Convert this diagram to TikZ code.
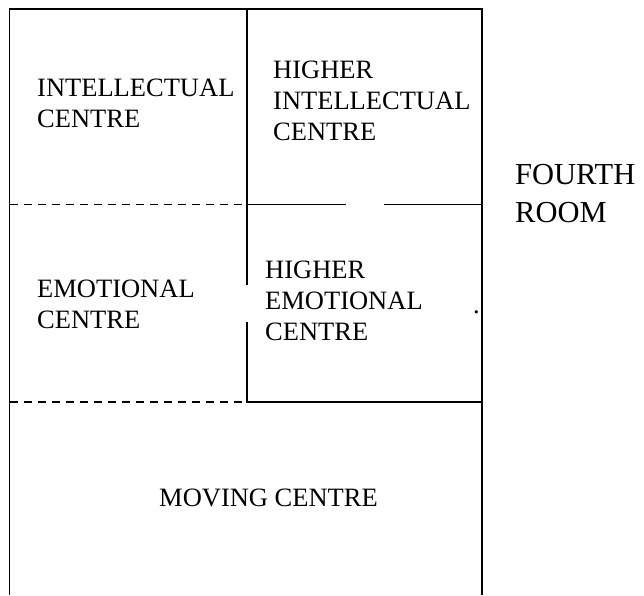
\documentclass[tikz,border=0pt]{standalone}
\usepackage{fontspec}
\setmainfont{Liberation Serif}

\tikzset{
  wall/.style={line width=1.6pt},
  open wall/.style={line width=1.6pt, dash pattern=on 8.5pt off 5.5pt},
  roomtext/.style={align=left, anchor=base west, inner sep=0pt,
    font=\fontsize{26.5}{31}\selectfont},
}

\begin{document}
\begin{tikzpicture}[x=1pt,y=1pt]
  \useasboundingbox (0,0) rectangle (644,595);
  % walls
  \draw[wall] (9.5,0) -- (9.5,586) -- (482,586) -- (482,0);
  \draw[wall] (247,586) -- (247,390.5) -- (346,390.5);
  \draw[wall] (384,390.5) -- (482,390.5);
  \draw[wall] (247,390.5) -- (247,310);
  \draw[wall] (247,273) -- (247,193) -- (482,193);
  \draw[open wall] (9.5,390.5) -- (247,390.5);
  \draw[open wall] (9.5,193) -- (247,193);
  % rooms (base = last line)
  \node[roomtext] (intel) at (37,467) {INTELLECTUAL\\CENTRE};
  \node[roomtext] (hintel) at (273,454) {HIGHER\\INTELLECTUAL\\CENTRE};
  \node[roomtext] (emot) at (37,267) {EMOTIONAL\\CENTRE};
  \node[roomtext] (hemot) at (265,255) {HIGHER\\EMOTIONAL\\CENTRE};
  \node[roomtext] (moving) at (159,89) {MOVING CENTRE};
  \node[roomtext] (dot) at (473,282) {.};
  \node[roomtext, font=\fontsize{30.5}{38}\selectfont] (fourth) at (515,372) {FOURTH\\ROOM};
\end{tikzpicture}
\end{document}
